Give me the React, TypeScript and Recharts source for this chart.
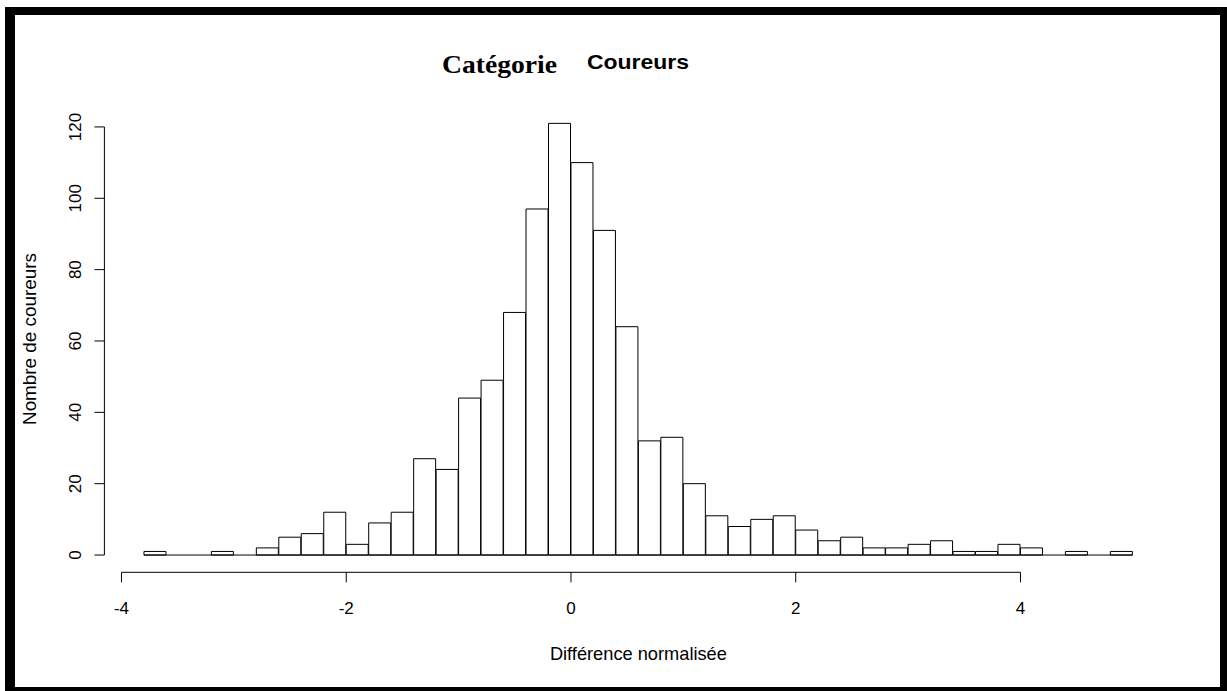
import { BarChart, Bar, XAxis, YAxis, ReferenceLine } from 'recharts'

// histogram bins of width 0.2, from -3.8 to 5.0
const binMids = [
  -3.7, -3.5, -3.3, -3.1, -2.9, -2.7, -2.5, -2.3, -2.1, -1.9, -1.7, -1.5, -1.3, -1.1, -0.9, -0.7, -0.5, -0.3, -0.1,
  0.1, 0.3, 0.5, 0.7, 0.9, 1.1, 1.3, 1.5, 1.7, 1.9, 2.1, 2.3, 2.5, 2.7, 2.9, 3.1, 3.3, 3.5, 3.7, 3.9, 4.1, 4.3, 4.5, 4.7, 4.9,
]
const counts = [
  1, 0, 0, 1, 0, 2, 5, 6, 12, 3, 9, 12, 27, 24, 44, 49, 68, 97, 121,
  110, 91, 64, 32, 33, 20, 11, 8, 10, 11, 7, 4, 5, 2, 2, 3, 4, 1, 1, 3, 2, 0, 1, 0, 1,
]
const xTicks = [-4, -2, 0, 2, 4]
const yTicks = [0, 20, 40, 60, 80, 100, 120]

const data = binMids.map((mid, i) => ({ mid, count: counts[i] }))

// R-style plot region: data range padded by 4%
const X_DOMAIN: [number, number] = [-4.152, 5.352]
const Y_DOMAIN: [number, number] = [-4.84, 125.84]

const SANS = '"Liberation Sans", Arial, sans-serif'

const XTick = ({ x, y, payload }: any) => (
  <text x={x} y={y + 30} textAnchor="middle" fontSize={17} fontFamily={SANS} fill="#000">
    {payload.value}
  </text>
)

const YTick = ({ x, y, payload }: any) => {
  const bx = x - 11
  return (
    <text x={bx} y={y} transform={`rotate(-90, ${bx}, ${y})`} textAnchor="middle" fontSize={17} fontFamily={SANS} fill="#000">
      {payload.value}
    </text>
  )
}

export default function App() {
  return (
    <div style={{ position: 'fixed', left: 0, top: 0, width: 1227, height: 691, overflow: 'hidden', background: '#fff' }}>
      <div
        style={{
          position: 'absolute', left: 5, top: 7, width: 1205, height: 672,
          borderStyle: 'solid', borderColor: '#000', borderWidth: '8px 10px 10px 10px',
        }}
      />
      <div style={{ position: 'absolute', left: 0, top: 0 }}>
        <BarChart
          width={1227}
          height={691}
          data={data}
          barCategoryGap={0}
          barGap={0}
          margin={{ top: 106.1, right: 54.6, bottom: 58.7, left: 0 }}
        >
          <XAxis
            type="number"
            dataKey="mid"
            domain={X_DOMAIN}
            ticks={xTicks}
            axisLine={false}
            tickLine={{ stroke: '#000' }}
            tickSize={10}
            height={60}
            tick={<XTick />}
            interval={0}
          />
          <YAxis
            type="number"
            domain={Y_DOMAIN}
            ticks={yTicks}
            axisLine={false}
            tickLine={{ stroke: '#000' }}
            tickSize={10}
            width={104.4}
            tick={<YTick />}
            interval={0}
          />
          <ReferenceLine segment={[{ x: -3.8, y: 0 }, { x: 5.0, y: 0 }]} stroke="#000" ifOverflow="visible" />
          <Bar dataKey="count" fill="#fff" stroke="#000" strokeWidth={1} isAnimationActive={false} />
          <ReferenceLine segment={[{ x: -4, y: Y_DOMAIN[0] }, { x: 4, y: Y_DOMAIN[0] }]} stroke="#000" ifOverflow="visible" />
          <ReferenceLine segment={[{ x: X_DOMAIN[0], y: 0 }, { x: X_DOMAIN[0], y: 120 }]} stroke="#000" ifOverflow="visible" />
        </BarChart>
      </div>
      <svg width={1227} height={691} style={{ position: 'absolute', left: 0, top: 0, pointerEvents: 'none' }}>
        <text x={442} y={73} fontSize={25} fontWeight="bold" fontFamily='"Liberation Serif", serif' fill="#000" textLength={115} lengthAdjust="spacingAndGlyphs">
          Catégorie
        </text>
        <text x={587} y={69} fontSize={20} fontWeight="bold" fontFamily={SANS} fill="#000" textLength={102} lengthAdjust="spacingAndGlyphs">
          Coureurs
        </text>
        <text x={638.4} y={660} textAnchor="middle" fontSize={19} fontFamily={SANS} fill="#000" textLength={177} lengthAdjust="spacingAndGlyphs">
          Différence normalisée
        </text>
        <text x={36} y={339} transform="rotate(-90, 36, 339)" textAnchor="middle" fontSize={19} fontFamily={SANS} fill="#000" textLength={172} lengthAdjust="spacingAndGlyphs">
          Nombre de coureurs
        </text>
      </svg>
    </div>
  )
}
